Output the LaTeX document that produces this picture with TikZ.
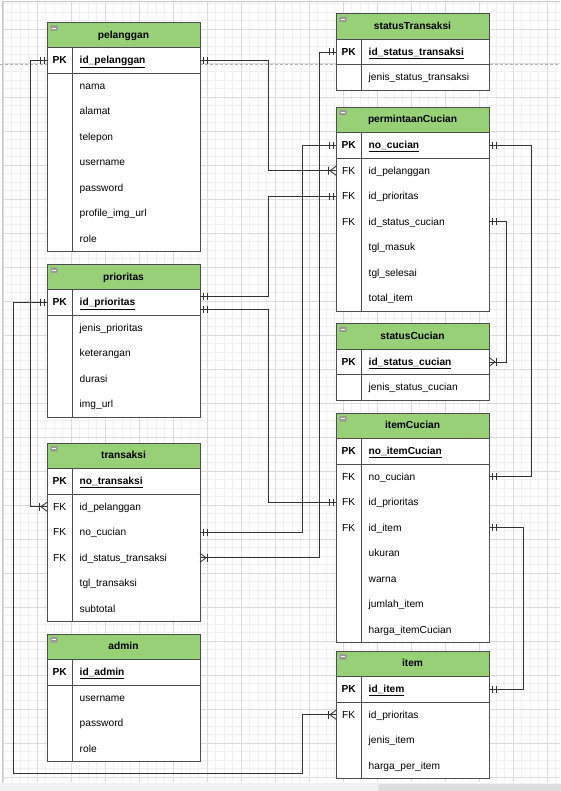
\documentclass[tikz,border=0pt]{standalone}
\usepackage{fontspec}
\setmainfont{Liberation Sans}
\definecolor{hdrgreen}{HTML}{97D077}
\definecolor{gridminor}{HTML}{F1F1F1}
\definecolor{gridmajor}{HTML}{DCDCDC}
\definecolor{tblline}{HTML}{4D4D4D}
\definecolor{connline}{HTML}{333333}
\newcommand\erfont{\fontsize{10.2pt}{12pt}\selectfont}
\tikzset{
  tbl/.style={draw=tblline, line width=0.9pt},
  hdr/.style={fill=hdrgreen},
  conn/.style={draw=connline, line width=0.85pt},
  rowbox/.style={minimum width=153pt, minimum height=25.5pt, inner sep=0pt, outer sep=0pt, draw=none},
  keytxt/.style={anchor=base, inner sep=0pt, font=\erfont},
  fldtxt/.style={anchor=base west, inner sep=0pt, font=\erfont},
  ttltxt/.style={anchor=base, inner sep=0pt, font=\erfont\bfseries},
}
% #1 id, #2 x, #3 y top, #4 number of rows, #5 title, #6 pk field, #7 rows
\newcommand\erTable[7]{%
  \begin{scope}[shift={(#2,#3)}]
    \fill[white] (0,0) rectangle (153,{25.5*(#4+2)});
    \fill[hdr] (0,0) rectangle (153,25.5);
    \draw[tbl] (0,0) rectangle (153,{25.5*(#4+2)});
    \draw[tbl] (0,25.5) -- (153,25.5);
    \draw[tbl] (0,51) -- (153,51);
    \draw[tbl] (25.5,25.5) -- (25.5,{25.5*(#4+2)});
    \fill[black!40, rounded corners=0.8pt] (3.6,3) rectangle (10.6,8.5);
    \draw[white, line width=1pt] (5,5.75) -- (9.2,5.75);
    \node[ttltxt] (#1-t) at (76.5,15.9) {#5};
    \node[rowbox] (#1-pk) at (76.5,38.25) {};
    \node[keytxt, font=\erfont\bfseries] (#1-pk-k) at (12.75,41.6) {PK};
    \node[fldtxt, font=\erfont\bfseries] (#1-pk-f) at (32.5,41.6) {\underline{#6}};
    \foreach \k/\f [count=\i] in {#7} {
      \node[rowbox] (#1-\i) at (76.5,{38.25+25.5*\i}) {};
      \node[keytxt] (#1-\i-k) at (12.75,{41.6+25.5*\i}) {\k};
      \node[fldtxt] (#1-\i-f) at (32.5,{41.6+25.5*\i}) {\f};
    }
  \end{scope}}
\newcommand\mOne[2]{%
  \begin{scope}[shift={(#1)}, xscale=#2]
    \draw[conn] (3,-3.5) -- (3,3.5) (7,-3.5) -- (7,3.5);
  \end{scope}}
\newcommand\mMany[2]{%
  \begin{scope}[shift={(#1)}, xscale=#2]
    \draw[conn] (0,-4.5) -- (6,0) -- (0,4.5) (7.5,-4) -- (7.5,4);
  \end{scope}}
\begin{document}
\begin{tikzpicture}[x=1pt, y=-1pt]
  \useasboundingbox (0,0) rectangle (560,791);
  \fill[white] (0,0) rectangle (560,791);
  % grid
  \foreach \x in {3,11.5,...,560} \draw[gridminor, line width=0.7pt] (\x,2) -- (\x,782);
  \foreach \y in {3.5,12,...,782} \draw[gridminor, line width=0.7pt] (3,\y) -- (560,\y);
  \foreach \x in {3,37,...,560} \draw[gridmajor, line width=0.7pt] (\x,2) -- (\x,782);
  \foreach \y in {29,63,...,782} \draw[gridmajor, line width=0.7pt] (3,\y) -- (560,\y);
  \draw[black!22, line width=0.8pt] (2.7,791) -- (2.7,1.7) -- (560,1.7);
  \draw[black!30, dash pattern=on 3pt off 2pt, line width=0.7pt] (0,64) -- (560,64);
  % scrollbar band
  \fill[black!5] (0,782.5) rectangle (560,791);
  \fill[black!13, rounded corners=3pt] (378,784) rectangle (564,791);

  % tables
  \erTable{pel}{47}{22.3}{7}{pelanggan}{id\_pelanggan}{/nama,/alamat,/telepon,/username,/password,/profile\_img\_url,/role}
  \erTable{pri}{47}{264.3}{4}{prioritas}{id\_prioritas}{/jenis\_prioritas,/keterangan,/durasi,/img\_url}
  \erTable{tra}{47}{443}{5}{transaksi}{no\_transaksi}{FK/id\_pelanggan,FK/no\_cucian,FK/id\_status\_transaksi,/tgl\_transaksi,/subtotal}
  \erTable{adm}{47}{634}{3}{admin}{id\_admin}{/username,/password,/role}
  \erTable{sta}{336}{13.7}{1}{statusTransaksi}{id\_status\_transaksi}{/jenis\_status\_transaksi}
  \erTable{per}{336}{107}{6}{permintaanCucian}{no\_cucian}{FK/id\_pelanggan,FK/id\_prioritas,FK/id\_status\_cucian,/tgl\_masuk,/tgl\_selesai,/total\_item}
  \erTable{stc}{336}{323.7}{1}{statusCucian}{id\_status\_cucian}{/jenis\_status\_cucian}
  \erTable{itc}{336}{413}{7}{itemCucian}{no\_itemCucian}{FK/no\_cucian,FK/id\_prioritas,FK/id\_item,/ukuran,/warna,/jumlah\_item,/harga\_itemCucian}
  \erTable{itm}{336}{651}{3}{item}{id\_item}{FK/id\_prioritas,/jenis\_item,/harga\_per\_item}

  % connectors
  \draw[conn] (pel-pk.west) -- ++(-17,0) |- (tra-1.west);
  \mOne{pel-pk.west}{-1} \mMany{tra-1.west}{-1}
  \draw[conn] (pel-pk.east) -- ++(68.3,0) |- (per-1.west);
  \mOne{pel-pk.east}{1} \mMany{per-1.west}{-1}
  \draw[conn] ([yshift=6.4pt]pri-pk.east) -- ++(68.3,0) |- (per-2.west);
  \mOne{[yshift=6.4pt]pri-pk.east}{1} \mOne{per-2.west}{-1}
  \draw[conn] ([yshift=-6.6pt]pri-pk.east) -- ++(68,0) |- (itc-2.west);
  \mOne{[yshift=-6.6pt]pri-pk.east}{1} \mOne{itc-2.west}{-1}
  \coordinate (b5) at (302.3,773.8);
  \draw[conn] (pri-pk.west) -- ++(-33.7,0) |- (b5) |- (itm-1.west);
  \mOne{pri-pk.west}{-1} \mMany{itm-1.west}{-1}
  \draw[conn] (tra-2.east) -- ++(102.3,0) |- (per-pk.west);
  \mOne{tra-2.east}{1} \mOne{per-pk.west}{-1}
  \draw[conn] (tra-3.east) -- ++(119.3,0) |- (sta-pk.west);
  \mMany{tra-3.east}{1} \mOne{sta-pk.west}{-1}
  \draw[conn] (per-pk.east) -- ++(42,0) |- (itc-1.east);
  \mOne{per-pk.east}{1} \mOne{itc-1.east}{1}
  \draw[conn] (per-3.east) -- ++(17.5,0) |- (stc-pk.east);
  \mOne{per-3.east}{1} \mMany{stc-pk.east}{1}
  \draw[conn] (itc-3.east) -- ++(34,0) |- (itm-pk.east);
  \mOne{itc-3.east}{1} \mOne{itm-pk.east}{1}
\end{tikzpicture}
\end{document}
